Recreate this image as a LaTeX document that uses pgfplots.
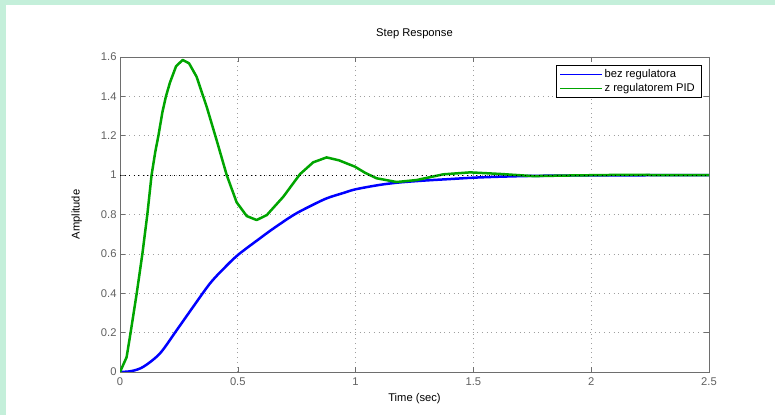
\documentclass[border=0pt]{standalone}
\usepackage{pgfplots}
\pgfplotsset{compat=1.18}
\usepackage{fontspec}
\setmainfont{Liberation Sans}
\definecolor{mint}{RGB}{196,239,218}
\definecolor{axgray}{RGB}{110,110,110}
\definecolor{mgreen}{RGB}{0,165,0}
\begin{document}
\begin{tikzpicture}
\fill[white] (0,0) rectangle (775bp,415bp);
\fill[mint] (0,0) rectangle (6bp,415bp);
\fill[mint] (0,410bp) rectangle (775bp,415bp);
\begin{axis}[
  at={(120bp,43bp)}, anchor=south west,
  scale only axis, width=589bp, height=315bp,
  xmin=0, xmax=2.5, ymin=0, ymax=1.6,
  xtick={0,0.5,1,1.5,2,2.5},
  ytick={0,0.2,0.4,0.6,0.8,1,1.2,1.4,1.6},
  xticklabels={0,0.5,1,1.5,2,2.5},
  yticklabels={0,0.2,0.4,0.6,0.8,1,1.2,1.4,1.6},
  tick align=inside, major tick length=5bp,
  axis line style={axgray, line width=0.8bp},
  every tick/.style={axgray, line width=0.6bp},
  grid=major, major grid style={gray!75, line width=0.7bp, dash pattern=on 0.7bp off 4bp},
  tick label style={font=\fontsize{11.2bp}{13bp}\selectfont, text=black!62},
  xticklabel style={yshift=-2bp},
  /pgf/number format/assume math mode=true,
  title={Step Response},
  title style={font=\fontsize{11.2bp}{13bp}\selectfont, at={(0.5,1)}, anchor=south, yshift=9bp},
  xlabel={Time (sec)},
  ylabel={Amplitude},
  label style={font=\fontsize{11.2bp}{13bp}\selectfont},
  xlabel style={yshift=-1bp},
  ylabel style={yshift=12bp},
  legend style={at={(1,1)}, anchor=north east, xshift=-8bp, yshift=-8bp,
    font=\fontsize{11.2bp}{13bp}\selectfont,
    inner xsep=4bp, inner ysep=2.5bp, row sep=0bp, cells={anchor=west}},
]
\addlegendimage{legend image code/.code={\draw[blue, line width=0.8bp] (5bp,0bp) -- (47bp,0bp);}}
\addlegendentry{bez regulatora}
\addlegendimage{legend image code/.code={\draw[mgreen, line width=0.8bp] (5bp,0bp) -- (47bp,0bp);}}
\addlegendentry{z regulatorem PID}
\addplot[blue, line width=2.5bp, smooth, tension=0.5, forget plot] coordinates {
(0,0)(0.05,0.005)(0.1,0.027)(0.17,0.095)(0.241,0.213)(0.311,0.332)(0.382,0.45)
(0.44,0.525)(0.5,0.594)(0.594,0.679)(0.65,0.728)(0.736,0.797)(0.8,0.838)(0.877,0.882)
(0.95,0.91)(1.0,0.928)(1.1,0.95)(1.188,0.963)(1.3,0.973)(1.4,0.98)(1.5,0.987)
(1.613,0.992)(1.75,0.996)(1.9,0.998)(2.1,0.999)(2.5,1.0)};
\addplot[mgreen, line width=2.5bp, line join=round, forget plot] coordinates {
(0,0)(0.028,0.075)(0.045,0.2)(0.071,0.4)(0.095,0.6)(0.116,0.8)(0.134,1.0)(0.15,1.12)
(0.163,1.2)(0.18,1.32)(0.195,1.4)(0.212,1.47)(0.238,1.553)(0.266,1.585)(0.293,1.568)
(0.325,1.50)(0.368,1.347)(0.41,1.178)(0.453,1.0)(0.495,0.862)(0.538,0.792)(0.58,0.772)
(0.623,0.797)(0.693,0.89)(0.764,1.005)(0.82,1.065)(0.877,1.09)(0.93,1.075)(0.997,1.043)
(1.04,1.012)(1.089,0.984)(1.174,0.965)(1.259,0.975)(1.372,1.004)(1.486,1.014)
(1.613,1.006)(1.754,0.995)(1.9,0.998)(2.1,1.001)(2.5,1.0)};
\addplot[black, line width=0.9bp, dash pattern=on 0.9bp off 3.6bp, forget plot] coordinates {(0,1)(2.5,1)};
\end{axis}
\end{tikzpicture}
\end{document}
